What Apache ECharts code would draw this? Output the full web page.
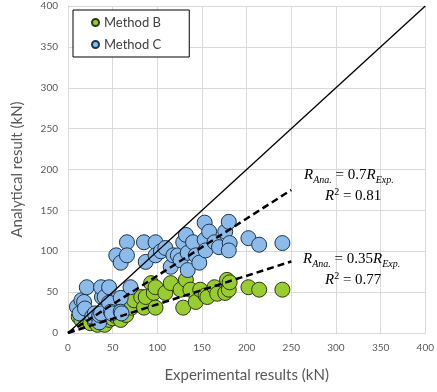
<!DOCTYPE html>
<html>
<head>
<meta charset="utf-8">
<script src="https://cdn.jsdelivr.net/npm/echarts@6/dist/echarts.min.js"></script>
<style>
  html, body { margin: 0; padding: 0; background: #fff; }
  #chart { width: 437px; height: 392px; }
</style>
</head>
<body>
<div id="chart"></div>
<script>
// axis ticks
var xTicks = [0, 50, 100, 150, 200, 250, 300, 350, 400];
var yTicks = [0, 50, 100, 150, 200, 250, 300, 350, 400];

// Method B (green) [experimental, analytical]
var methodB = [
  [12,20],[15,16],[20,18],[25,12],[30,14],[33,10],[37,14],[41,10],[46,16],[50,18],
  [53,21],[57,30],[59,16],[62,36],[65,22],[67,44],[71,31],[74,40],[82,44],[85,31],
  [87,44],[93,61],[96,49],[98,31],[98,56],[109,49],[115,61],[126,53],[129,31],[132,65],
  [137,53],[143,38],[148,53],[154,46],[156,44],[164,56],[167,48],[176,49],[178,65],[180,53],
  [181,62],[202,56],[214,53],[240,53]
];

// Method C (blue)
var methodC = [
  [10,32],[13,24],[15,40],[18,38],[21,56],[19,30],[27,20],[30,24],[35,13],[35,22],
  [37,24],[38,44],[37,56],[41,44],[46,56],[46,37],[48,26],[49,24],[59,43],[59,26],
  [60,24],[70,56],
  [54,95],[59,86],[66,111],[66,95],[85,111],[87,87],[98,111],[98,95],[104,100],[109,104],
  [115,81],[118,95],[123,95],[126,89],[129,111],[132,120],[134,98],[134,77],[140,111],[143,95],
  [147,86],[153,135],[153,114],[154,101],[158,124],[164,111],[169,105],[176,124],[180,136],[181,110],
  [180,101],[202,116],[214,108],[240,110]
];

// reference line and trend lines (end points)
var equality = [[0,0],[400,400]];
var trendC = [[0,0],[250,175]];
var trendB = [[0,0],[250,87.5]];

var chart = echarts.init(document.getElementById('chart'));

var fontSans = 'Lato, "Open Sans", sans-serif';
var serif = '"Liberation Serif", serif';
var mathRich = {
  i: { fontFamily: serif, fontStyle: 'italic', fontSize: 15, lineHeight: 19, verticalAlign: 'middle', color: '#111' },
  n: { fontFamily: serif, fontSize: 15, lineHeight: 19, verticalAlign: 'middle', color: '#111' },
  sub: { fontFamily: serif, fontStyle: 'italic', fontSize: 10, lineHeight: 10, verticalAlign: 'bottom', color: '#111' },
  sup: { fontFamily: serif, fontSize: 10, lineHeight: 10, verticalAlign: 'top', color: '#111' }
};

var option = {
  backgroundColor: '#fff',
  animation: false,
  grid: { left: 68, right: 5, top: 6, bottom: 59 },
  legend: {
    orient: 'vertical',
    left: 73, top: 10,
    data: ['Method B', 'Method C'],
    icon: 'circle',
    itemWidth: 7, itemHeight: 7,
    itemGap: 9,
    padding: [6, 28, 6, 18],
    borderColor: '#000', borderWidth: 1,
    backgroundColor: '#fff',
    textStyle: { fontFamily: fontSans, fontSize: 13, color: '#404040' }
  },
  xAxis: {
    type: 'value', min: 0, max: 400, interval: 50,
    name: 'Experimental results (kN)',
    nameLocation: 'middle', nameGap: 35,
    nameTextStyle: { fontFamily: fontSans, fontSize: 15, color: '#595959' },
    axisLine: { show: true, lineStyle: { color: '#d9d9d9' } },
    axisTick: { show: false },
    axisLabel: { fontFamily: fontSans, fontSize: 10, color: '#595959', margin: 10,
      formatter: function (v) { return xTicks.indexOf(v) >= 0 ? v : ''; } },
    splitLine: { lineStyle: { color: '#d9d9d9' } }
  },
  yAxis: {
    type: 'value', min: 0, max: 400, interval: 50,
    name: 'Analytical result (kN)',
    nameLocation: 'middle', nameGap: 43,
    nameTextStyle: { fontFamily: fontSans, fontSize: 15, color: '#595959' },
    axisLine: { show: true, lineStyle: { color: '#d9d9d9' } },
    axisTick: { show: false },
    axisLabel: { fontFamily: fontSans, fontSize: 10, color: '#595959', margin: 10,
      formatter: function (v) { return yTicks.indexOf(v) >= 0 ? v : ''; } },
    splitLine: { lineStyle: { color: '#d9d9d9' } }
  },
  series: [
    {
      name: 'Method B', type: 'scatter', data: methodB, symbolSize: 15, z: 2,
      itemStyle: { color: '#99cc33', borderColor: '#2b3a12', borderWidth: 1, opacity: 1 }
    },
    {
      name: 'Method C', type: 'scatter', data: methodC, symbolSize: 15, z: 3,
      itemStyle: { color: '#8cbbea', borderColor: '#1c3550', borderWidth: 1, opacity: 1 }
    },
    {
      name: 'equality', type: 'line', data: equality, showSymbol: false, symbol: 'none', z: 4,
      lineStyle: { color: '#000', width: 1.3 }
    },
    {
      name: 'trendC', type: 'line', data: trendC, showSymbol: false, symbol: 'none', z: 4,
      lineStyle: { color: '#000', width: 2.5, type: [7, 4] }
    },
    {
      name: 'trendB', type: 'line', data: trendB, showSymbol: false, symbol: 'none', z: 4,
      lineStyle: { color: '#000', width: 2.5, type: [7, 4] }
    }
  ],
  graphic: [
    {
      type: 'text', left: 304, top: 168, z: 10,
      style: { text: '{i|R}{sub|Ana.}{n| = 0.7}{i|R}{sub|Exp.}', rich: mathRich }
    },
    {
      type: 'text', left: 325, top: 187, z: 10,
      style: { text: '{i|R}{sup|2}{n| = 0.81}', rich: mathRich }
    },
    {
      type: 'text', left: 303, top: 252, z: 10,
      style: { text: '{i|R}{sub|Ana.}{n| = 0.35}{i|R}{sub|Exp.}', rich: mathRich }
    },
    {
      type: 'text', left: 325, top: 271, z: 10,
      style: { text: '{i|R}{sup|2}{n| = 0.77}', rich: mathRich }
    }
  ]
};

chart.setOption(option);
</script>
</body>
</html>
